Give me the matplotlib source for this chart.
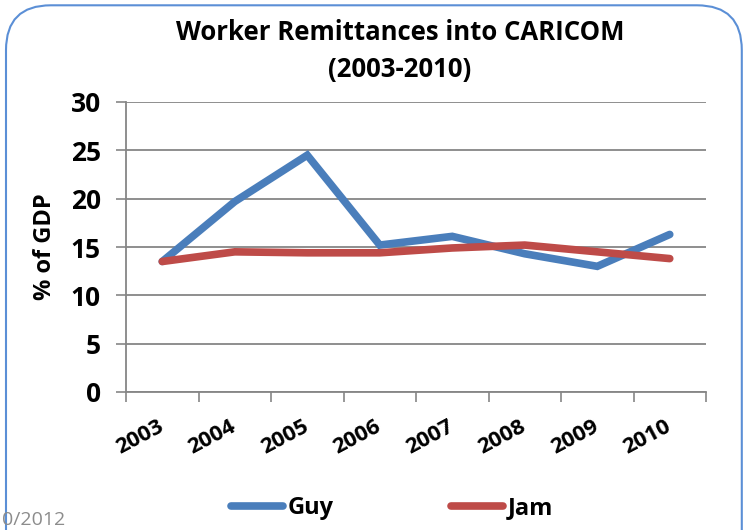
import matplotlib.pyplot as plt
from matplotlib.patches import FancyBboxPatch
from matplotlib.lines import Line2D

years = ['2003', '2004', '2005', '2006', '2007', '2008', '2009', '2010']
guy = [13.5, 19.7, 24.5, 15.2, 16.1, 14.3, 13.0, 16.3]
jam = [13.5, 14.5, 14.4, 14.4, 14.9, 15.2, 14.5, 13.8]

BLUE = '#4A7EBB'
RED = '#BE4B48'
GRID = '#868686'
FONT = ['Open Sans', 'DejaVu Sans']

fig = plt.figure(figsize=(7.47, 5.30), dpi=100)

# rounded chart border (cut off on the right and bottom like the slide)
border = FancyBboxPatch((6 / 747, -0.2), 0.985, 1.19, boxstyle='round,pad=0,rounding_size=0.06',
                        transform=fig.transFigure, fill=False, ec='#5B8FD6', lw=1.5,
                        mutation_aspect=747 / 530)
fig.patches.append(border)

ax = fig.add_axes([126 / 747, 1 - 392 / 530, 580 / 747, 290 / 530])
x = list(range(len(years)))
ax.plot(x, guy, color=BLUE, lw=5.5, solid_capstyle='round', solid_joinstyle='miter', zorder=3)
ax.plot(x, jam, color=RED, lw=5.5, solid_capstyle='round', solid_joinstyle='miter', zorder=4)

ax.set_xlim(-0.5, len(years) - 0.5)
ax.set_ylim(0, 30)
ax.set_yticks(range(0, 31, 5))
ax.set_xticks([i - 0.5 for i in range(len(years) + 1)])
ax.set_xticklabels([])
ax.set_xticks(x, minor=True)
ax.set_xticklabels(years, minor=True, rotation=28, fontsize=16, fontweight='bold',
                   family=FONT, ha='right', va='center', rotation_mode='anchor')
ax.tick_params(axis='x', which='minor', length=0, pad=24)
ax.tick_params(axis='x', which='major', length=7, width=1.2, color=GRID, direction='out')
ax.tick_params(axis='y', length=7, width=1.2, color=GRID, direction='out', pad=11)
for lab in ax.get_yticklabels():
    lab.set_fontsize(19)
    lab.set_fontweight('bold')
    lab.set_family(FONT)

ax.grid(axis='y', color=GRID, lw=1.3)
ax.set_axisbelow(True)
for s in ['top', 'right']:
    ax.spines[s].set_visible(False)
for s in ['left', 'bottom']:
    ax.spines[s].set_color(GRID)
    ax.spines[s].set_linewidth(1.3)

ax.set_ylabel('% of GDP', fontsize=17, fontweight='bold', family=FONT, labelpad=10)

fig.text(400 / 747, 1 - 32 / 530, 'Worker Remittances into CARICOM', ha='center', va='center',
         fontsize=18.5, fontweight='bold', family=FONT)
fig.text(400 / 747, 1 - 70 / 530, '(2003-2010)', ha='center', va='center',
         fontsize=18.5, fontweight='bold', family=FONT)

handles = [Line2D([], [], color=BLUE, lw=5.5, solid_capstyle='round'),
           Line2D([], [], color=RED, lw=5.5, solid_capstyle='round')]
leg = fig.legend(handles, ['Guy', 'Jam'], loc='center', bbox_to_anchor=(392 / 747, 1 - 508 / 530),
                 ncol=2, frameon=False, handlelength=2.2, handletextpad=0.2, columnspacing=5.0,
                 prop={'family': FONT, 'weight': 'bold', 'size': 17})

fig.text(2 / 747, 1 / 530, '0/2012', color='#8C8C8C', fontsize=14, family=FONT, va='bottom')

fig.savefig('out.png', dpi=100)
